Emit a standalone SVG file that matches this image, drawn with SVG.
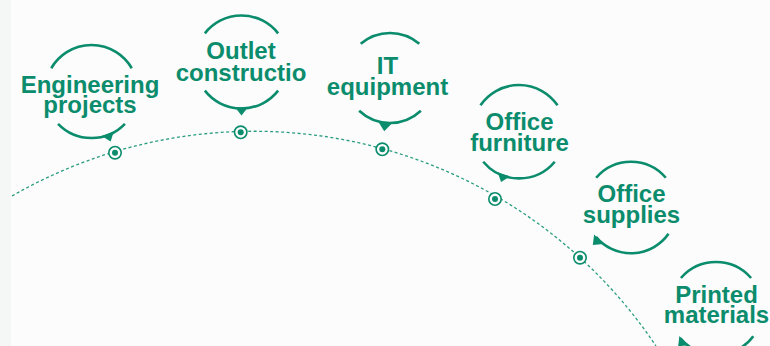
<svg xmlns="http://www.w3.org/2000/svg" width="770" height="346" viewBox="0 0 770 346">
  <style>
    .ring { fill: none; stroke: #0b8c6d; stroke-width: 2.6; }
    .tip { fill: #0b8c6d; }
    .lbl { font-family: "Liberation Sans", Arial, sans-serif; font-weight: bold; font-size: 24px; fill: #0b8c6d; text-anchor: middle; }
    .path { fill: none; stroke: #2a9d80; stroke-width: 1.3; stroke-dasharray: 3 2.5; }
    .dot-ring { fill: #fbfcfb; stroke: #0b8c6d; stroke-width: 1.6; }
    .dot-core { fill: #0b8c6d; }
  </style>
  <defs>
    <path id="pointer" d="M 45.3 -6.5 L 53.5 0 L 45.3 6.5 Z"/>
  </defs>
  <rect x="0" y="0" width="770" height="346" fill="#fbfcfb"/>
  <rect x="0" y="0" width="11" height="346" fill="#f4f7f6"/>

  <g id="connectors">
    <path class="path" d="M 12 196 A 484 484 0 0 1 656 346"/>
    <g id="stops">
      <circle class="dot-ring" cx="115" cy="152.7" r="6.2"/><circle class="dot-core" cx="115" cy="152.7" r="3"/>
      <circle class="dot-ring" cx="240.7" cy="132.3" r="6.2"/><circle class="dot-core" cx="240.7" cy="132.3" r="3"/>
      <circle class="dot-ring" cx="382.3" cy="149.3" r="6.2"/><circle class="dot-core" cx="382.3" cy="149.3" r="3"/>
      <circle class="dot-ring" cx="495" cy="199" r="6.2"/><circle class="dot-core" cx="495" cy="199" r="3"/>
      <circle class="dot-ring" cx="580" cy="257.7" r="6.2"/><circle class="dot-core" cx="580" cy="257.7" r="3"/>
    </g>
  </g>

  <g id="node-engineering">
    <g transform="translate(91.5 91.5)">
      <path class="ring" d="M -40.27 -23.25 A 46.5 46.5 0 0 1 40.27 -23.25"/>
      <path class="ring" d="M 33.45 32.3 A 46.5 46.5 0 0 1 -33.45 32.3"/>
      <use href="#pointer" class="tip" transform="rotate(69)"/>
    </g>
    <text class="lbl" x="90" y="93">Engineering</text>
    <text class="lbl" x="90" y="112.5">projects</text>
  </g>

  <g id="node-outlet">
    <g transform="translate(241.5 62)">
      <path class="ring" d="M -36.64 -28.63 A 46.5 46.5 0 0 1 36.64 -28.63"/>
      <path class="ring" d="M 36.64 28.63 A 46.5 46.5 0 0 1 -36.64 28.63"/>
      <use href="#pointer" class="tip" transform="rotate(90)"/>
    </g>
    <text class="lbl" x="241" y="58.5">Outlet</text>
    <text class="lbl" x="241" y="80.5">constructio</text>
  </g>

  <g id="node-it">
    <g transform="translate(390 78)">
      <path class="ring" d="M -29.29 -34.17 A 45 45 0 0 1 29.29 -34.17"/>
      <path class="ring" d="M 30.86 32.75 A 45 45 0 0 1 -30.86 32.75"/>
      <use href="#pointer" class="tip" transform="rotate(96.2)"/>
    </g>
    <text class="lbl" x="387.5" y="74">IT</text>
    <text class="lbl" x="387.5" y="95">equipment</text>
  </g>

  <g id="node-furniture">
    <g transform="translate(519 131.7)">
      <path class="ring" d="M -38.53 -26.39 A 46.7 46.7 0 0 1 38.53 -26.39"/>
      <path class="ring" d="M 35.77 30.02 A 46.7 46.7 0 0 1 -35.77 30.02"/>
      <use href="#pointer" class="tip" transform="rotate(109.6)"/>
    </g>
    <text class="lbl" x="519.5" y="130">Office</text>
    <text class="lbl" x="519.5" y="151">furniture</text>
  </g>

  <g id="node-supplies">
    <g transform="translate(631 207.5)">
      <path class="ring" d="M -34.83 -29.74 A 45.8 45.8 0 0 1 34.83 -29.74"/>
      <path class="ring" d="M 37.52 26.27 A 45.8 45.8 0 0 1 -35.08 29.44"/>
      <use href="#pointer" class="tip" transform="rotate(135.5)"/>
    </g>
    <text class="lbl" x="631.5" y="201.7">Office</text>
    <text class="lbl" x="631.5" y="223">supplies</text>
  </g>

  <g id="node-printed">
    <g transform="translate(716 308.5)">
      <path class="ring" d="M -35.09 -30.51 A 46.5 46.5 0 0 1 35.09 -30.51"/>
      <path class="ring" d="M 37.33 27.72 A 46.5 46.5 0 0 1 -35.62 29.89"/>
      <use href="#pointer" class="tip" transform="rotate(135)"/>
    </g>
    <text class="lbl" x="716.5" y="303">Printed</text>
    <text class="lbl" x="716.5" y="323">materials</text>
  </g>
</svg>
